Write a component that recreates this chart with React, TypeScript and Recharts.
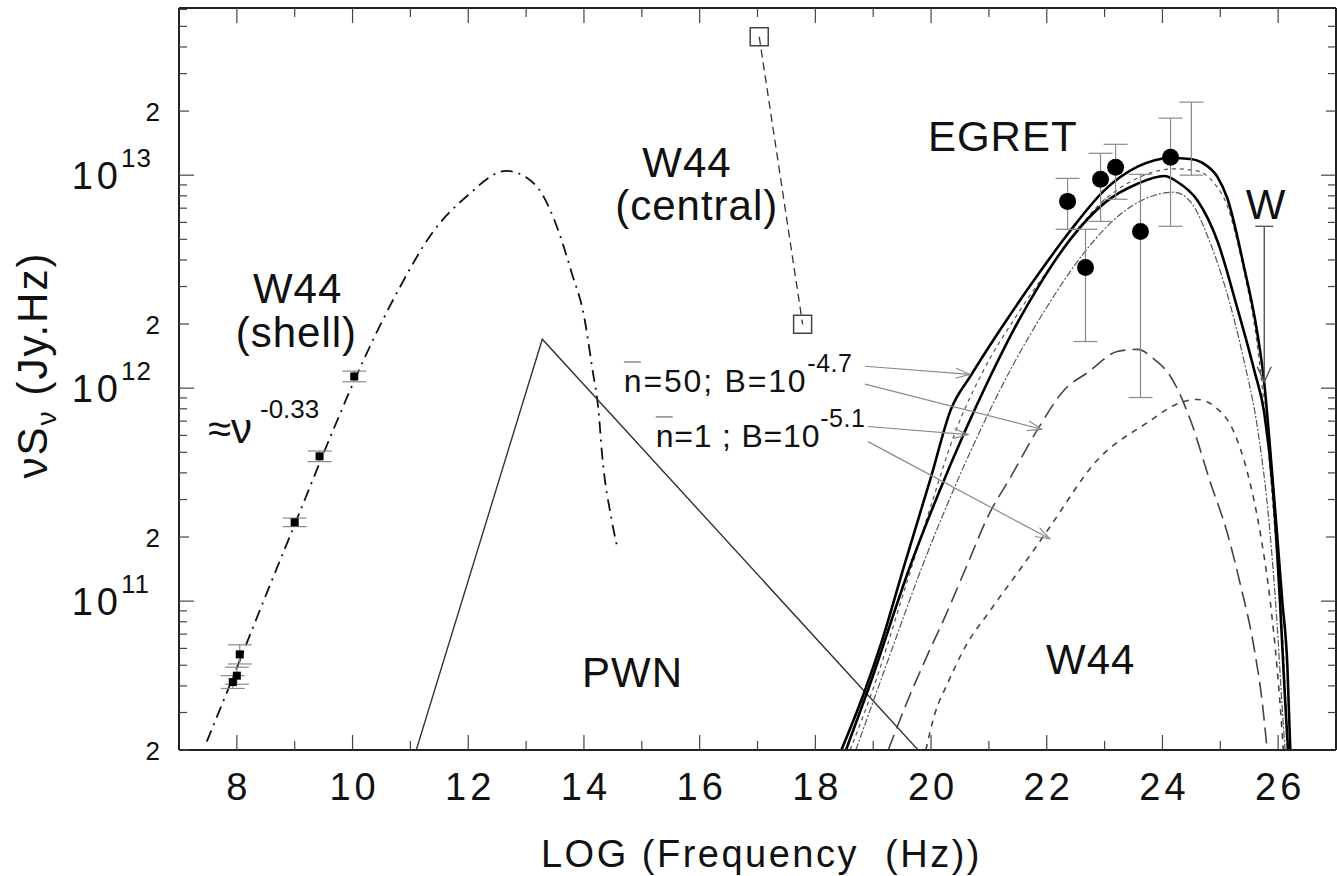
import React from 'react';
import {
  ComposedChart, Line, Scatter, XAxis, YAxis, ErrorBar,
  ReferenceLine, ReferenceDot, Label,
} from 'recharts';

// x = log10(nu / Hz), y = log10(nu S_nu / Jy Hz)

// W44 shell synchrotron fit (dash-dot)
const shellCurveX = [7.48, 7.93, 8.52, 9.09, 9.66, 10.17, 10.81, 11.38, 11.97, 12.66, 13.0, 13.28, 13.57, 13.79, 14.0, 14.14, 14.26, 14.31, 14.48, 14.57];
const shellCurveY = [10.34, 10.64, 11.04, 11.42, 11.80, 12.12, 12.47, 12.73, 12.90, 13.02, 12.99, 12.91, 12.73, 12.54, 12.34, 12.10, 11.87, 11.70, 11.38, 11.26];

// radio points of the shell
const shellPtX = [7.93, 8.0, 8.05, 9.0, 9.43, 10.03];
const shellPtY = [10.62, 10.65, 10.75, 11.37, 11.68, 12.055];
const shellPtErr = [0.03, 0.04, 0.045, 0.02, 0.025, 0.025];

// PWN broken power law
const pwnX = [11.10, 13.28, 19.78];
const pwnY = [10.30, 12.23, 10.30];

// W44 central source
const centralX = [17.03, 17.78];
const centralY = [13.65, 12.30];

// EGRET points
const egretX = [22.36, 22.67, 22.93, 23.19, 23.62, 24.14];
const egretY = [12.877, 12.567, 12.981, 13.037, 12.736, 13.084];
const egretErrLo = [0.131, 0.348, 0.198, 0.15, 0.78, 0.324];
const egretErrHi = [0.108, 0.179, 0.122, 0.108, 0.268, 0.184];
// bar with its point hidden under the model curves
const egretHiddenX = [24.5];
const egretHiddenY = [13.05];
const egretHiddenErrLo = [0.05];
const egretHiddenErrHi = [0.293];

// upper limit "W"
const upperLimitX = 25.76;
const upperLimitTop = 12.76;
const upperLimitTip = 12.03;

// model curves (solid pair, their thin companions, long dash, short dash)
const modelAX = [18.45, 18.86, 19.14, 19.55, 20.0, 20.34, 20.69, 21.16, 21.84, 22.41, 23.0, 23.57, 24.14, 24.48, 24.72, 24.95, 25.12, 25.41, 25.64, 25.76, 25.86, 25.98, 26.07, 26.16, 26.21];
const modelAY = [10.301, 10.583, 10.804, 11.18, 11.583, 11.898, 12.06, 12.26, 12.53, 12.74, 12.93, 13.04, 13.081, 13.076, 13.053, 12.992, 12.893, 12.569, 12.259, 12.024, 11.72, 11.32, 11.005, 10.691, 10.301];
const modelBX = [18.53, 18.91, 19.66, 20.12, 20.59, 20.98, 21.5, 21.84, 22.41, 23.0, 23.57, 24.03, 24.26, 24.6, 24.95, 25.29, 25.59, 25.76, 25.91, 26.03, 26.12, 26.17];
const modelBY = [10.301, 10.583, 11.18, 11.50, 11.80, 12.03, 12.31, 12.47, 12.70, 12.87, 12.96, 12.996, 12.968, 12.883, 12.691, 12.38, 12.08, 11.883, 11.522, 11.005, 10.536, 10.301];
const modelA2X = [18.6, 19.0, 19.55, 20.0, 20.4, 20.9, 21.5, 22.2, 22.9, 23.6, 24.2, 24.6, 24.9, 25.1, 25.4, 25.62, 25.78, 25.93, 26.05, 26.12, 26.16];
const modelA2Y = [10.301, 10.59, 11.06, 11.45, 11.78, 12.08, 12.35, 12.62, 12.86, 12.99, 13.03, 13.02, 12.96, 12.87, 12.56, 12.24, 11.86, 11.38, 10.95, 10.6, 10.301];
const modelB2X = [18.7, 19.2, 19.9, 20.4, 20.9, 21.4, 22.0, 22.6, 23.2, 23.8, 24.2, 24.5, 24.8, 25.1, 25.4, 25.65, 25.85, 25.98, 26.07, 26.12];
const modelB2Y = [10.301, 10.68, 11.2, 11.53, 11.83, 12.1, 12.38, 12.62, 12.8, 12.9, 12.92, 12.87, 12.7, 12.46, 12.14, 11.8, 11.35, 10.9, 10.5, 10.301];
const modelCX = [19.26, 19.6, 19.9, 20.24, 20.64, 20.98, 21.38, 21.84, 22.31, 22.71, 23.22, 23.57, 23.86, 24.14, 24.48, 24.83, 25.12, 25.34, 25.59, 25.72, 25.81];
const modelCY = [10.301, 10.536, 10.724, 10.926, 11.18, 11.396, 11.585, 11.805, 11.994, 12.074, 12.172, 12.182, 12.135, 12.055, 11.853, 11.556, 11.321, 11.086, 10.771, 10.536, 10.301];
const modelDX = [19.91, 20.07, 20.29, 20.59, 21.03, 21.62, 22.02, 22.88, 23.74, 24.31, 24.6, 24.9, 25.24, 25.47, 25.69, 25.86, 25.98, 26.07, 26.09];
const modelDY = [10.301, 10.475, 10.616, 10.785, 10.959, 11.18, 11.335, 11.664, 11.838, 11.932, 11.947, 11.914, 11.791, 11.603, 11.321, 11.006, 10.691, 10.381, 10.301];

// arrows from the n/B labels to the curves
const arrowFromX = [18.86, 18.86, 18.91, 18.91];
const arrowFromY = [12.103, 12.019, 11.82, 11.749];
const arrowToX = [20.67, 21.91, 20.64, 22.05];
const arrowToY = [12.065, 11.807, 11.782, 11.293];

// axes
const xTicks = [7, 8, 9, 10, 11, 12, 13, 14, 15, 16, 17, 18, 19, 20, 21, 22, 23, 24, 25, 26, 27];
const xLabelTicks = [8, 10, 12, 14, 16, 18, 20, 22, 24, 26];
const yDecades = [10, 11, 12, 13];
const yMultipliers = [1, 2, 3, 4, 5, 6, 7, 8, 9];

const X_DOMAIN: [number, number] = [7, 27];
const Y_DOMAIN: [number, number] = [Math.log10(2e10), 13.785];
const yTicks = yDecades
  .flatMap((d) => yMultipliers.map((m) => d + Math.log10(m)))
  .filter((v) => v >= Y_DOMAIN[0] - 1e-6 && v <= Y_DOMAIN[1]);
const innerXTicks = xTicks.filter((v) => v > X_DOMAIN[0] && v < X_DOMAIN[1]);
const innerYTicks = yTicks.filter((v) => v > Y_DOMAIN[0] + 1e-6 && v < Y_DOMAIN[1] - 0.01);

const pts = (xs: number[], ys: number[]) => xs.map((x, i) => ({ x, y: ys[i] }));
const errPts = (xs: number[], ys: number[], lo: number[], hi: number[]) =>
  xs.map((x, i) => ({ x, y: ys[i], err: [lo[i], hi[i]] }));

const FONT = '"Liberation Sans", Arial, Helvetica, sans-serif';
const INK = '#111';
const GREY = '#8a8a8a';
const FRAME = { stroke: '#222', strokeWidth: 2 };

const tickMult = (v: number) => {
  const d = Math.floor(v + 1e-6);
  return { d, m: Math.round(Math.pow(10, v - d)) };
};
const yTickLen = (v: number) => {
  const { m } = tickMult(v);
  return m === 1 ? 15 : m === 2 ? 10 : 8;
};
const xTickLen = (v: number) => (xLabelTicks.includes(v) ? 15 : 9);

const XTick = (props: any) => {
  const { x, y, payload } = props;
  const v = payload.value;
  if (v <= X_DOMAIN[0] || v >= X_DOMAIN[1]) return <g />;
  const major = xLabelTicks.includes(v);
  return (
    <g>
      <line x1={x} x2={x} y1={y} y2={y - xTickLen(v)} stroke="#444" strokeWidth={1.2} />
      {major && (
        <text x={x + 2} y={y + 50} textAnchor="middle" fontSize={38} letterSpacing={4} fontFamily={FONT} fill={INK}>
          {v}
        </text>
      )}
    </g>
  );
};

const YTick = (props: any) => {
  const { x, y, payload } = props;
  const { d, m } = tickMult(payload.value);
  return (
    <g>
      <line x1={x} x2={x + yTickLen(payload.value)} y1={y} y2={y} stroke="#444" strokeWidth={1.2} />
      {m === 1 && (
        <g fontFamily={FONT} fill={INK}>
          <text x={122} y={y + 14} textAnchor="end" fontSize={38} letterSpacing={4}>10</text>
          <text x={121} y={y - 8} fontSize={26} letterSpacing={1}>{d}</text>
        </g>
      )}
      {m === 2 && (
        <text x={160} y={y + 10} textAnchor="end" fontSize={26} fontFamily={FONT} fill={INK}>2</text>
      )}
    </g>
  );
};

// mirrored ticks on the top and right frame edges
const topTickShape = (len: number) => (p: any) => {
  const top = Math.min(p.y1, p.y2);
  return <line x1={p.x1} x2={p.x1} y1={top} y2={top + len} stroke="#444" strokeWidth={1.2} />;
};
const rightTickShape = (len: number) => (p: any) => {
  const right = Math.max(p.x1, p.x2);
  return <line x1={right - len} x2={right} y1={p.y1} y2={p.y1} stroke="#444" strokeWidth={1.2} />;
};

const xTitle = (props: any) => {
  const vb = props.viewBox;
  return (
    <text x={vb.x + vb.width / 2 + 4} y={vb.y + 117} textAnchor="middle" fontSize={38} letterSpacing={2.5}
      fontFamily={FONT} fill={INK} xmlSpace="preserve">
      LOG (Frequency  (Hz))
    </text>
  );
};

const yTitle = (props: any) => {
  const vb = props.viewBox;
  const cx = 47;
  const cy = vb.y + vb.height / 2 - 14;
  return (
    <text x={cx} y={cy} transform={`rotate(-90 ${cx} ${cy})`} textAnchor="middle" fontSize={42} letterSpacing={2}
      fontFamily={FONT} fill={INK}>
      νS<tspan fontSize={28} dy={9}>ν</tspan>
      <tspan fontSize={42} dy={-9} dx={14}>(Jy.Hz)</tspan>
    </text>
  );
};

const arrowShape = (p: any) => {
  const { x1, y1, x2, y2 } = p;
  const a = Math.atan2(y2 - y1, x2 - x1);
  const len = 15;
  const s = 0.34;
  const hx1 = x2 - len * Math.cos(a - s);
  const hy1 = y2 - len * Math.sin(a - s);
  const hx2 = x2 - len * Math.cos(a + s);
  const hy2 = y2 - len * Math.sin(a + s);
  return (
    <g>
      <line x1={x1} y1={y1} x2={x2} y2={y2} stroke={GREY} strokeWidth={1.2} />
      <polyline points={`${hx1},${hy1} ${x2},${y2} ${hx2},${hy2}`} fill="none" stroke={GREY} strokeWidth={1.2} />
    </g>
  );
};

const upperLimitShape = (p: any) => {
  const { x1, y1, x2, y2 } = p;
  return (
    <g stroke="#555" strokeWidth={1.4} fill="none">
      <line x1={x1} y1={y1} x2={x2} y2={y2} />
      <line x1={x1 - 9} y1={y1} x2={x1 + 9} y2={y1} />
      <polyline points={`${x2 - 7},${y2 - 15} ${x2},${y2} ${x2 + 7},${y2 - 15}`} />
    </g>
  );
};

const txt = (content: string, size = 42, anchor = 'middle') => (p: any) => (
  <text x={p.cx} y={p.cy} textAnchor={anchor} fontSize={size} fontFamily={FONT} fill={INK} letterSpacing={1}>
    {content}
  </text>
);

const nuLabel = (p: any) => (
  <text x={p.cx} y={p.cy} fontSize={42} fontFamily={FONT} fill={INK}>
    ≈ν<tspan fontSize={26} dy={-25} dx={8}>-0.33</tspan>
  </text>
);

const modelLabel = (head: string, sup: string, spacing: number) => (p: any) => (
  <g>
    <line x1={p.cx} x2={p.cx + 17} y1={p.cy - 30} y2={p.cy - 30} stroke="#777" strokeWidth={1.3} />
    <text x={p.cx} y={p.cy} fontSize={32} fontFamily={FONT} fill={INK} letterSpacing={spacing} xmlSpace="preserve">
      {head}<tspan fontSize={25} dy={-20} letterSpacing={0.5}>{sup}</tspan>
    </text>
  </g>
);

const centralSquare = (p: any) => (
  <rect x={p.cx - 9} y={p.cy - 9} width={18} height={18} fill="none" stroke="#444" strokeWidth={1.5} />
);
const shellSquare = (p: any) => <rect x={p.cx - 4} y={p.cy - 4} width={8} height={8} fill="#000" />;
const egretDot = (p: any) => <circle cx={p.cx} cy={p.cy} r={8.5} fill="#000" />;
const noDot = () => <g />;

export default function App() {
  const textDots: { x: number; y: number; shape: (p: any) => React.ReactElement }[] = [
    { x: 9.05, y: 12.40, shape: txt('W44') },
    { x: 9.03, y: 12.193, shape: txt('(shell)') },
    { x: 7.50, y: 11.742, shape: nuLabel },
    { x: 15.78, y: 12.991, shape: txt('W44') },
    { x: 15.95, y: 12.789, shape: txt('(central)') },
    { x: 21.24, y: 13.113, shape: txt('EGRET') },
    { x: 25.79, y: 12.794, shape: txt('W') },
    { x: 14.84, y: 10.597, shape: txt('PWN') },
    { x: 22.76, y: 10.658, shape: txt('W44') },
    { x: 14.69, y: 11.982, shape: modelLabel('n=50; B=10', '-4.7', 1.8) },
    { x: 15.24, y: 11.724, shape: modelLabel('n=1 ; B=10', '-5.1', 0.8) },
  ];

  return (
    <div style={{ position: 'absolute', left: 0, top: 0, width: 1337, height: 876, overflow: 'hidden', background: '#fff' }}>
      <ComposedChart width={1345} height={876} margin={{ top: 8, right: 9, bottom: 0, left: 0 }}>
        <XAxis type="number" dataKey="x" domain={X_DOMAIN} ticks={xTicks} interval={0} allowDataOverflow
          height={126} tickSize={0} tickMargin={0} tickLine={false} tick={XTick} axisLine={FRAME}>
          <Label content={xTitle} />
        </XAxis>
        <YAxis type="number" dataKey="y" domain={Y_DOMAIN} ticks={yTicks} interval={0} allowDataOverflow
          width={179} tickSize={0} tickMargin={0} tickLine={false} tick={YTick} axisLine={FRAME}>
          <Label content={yTitle} />
        </YAxis>

        {/* top and right edges of the frame, with mirrored ticks */}
        <ReferenceLine y={Y_DOMAIN[1]} stroke="#222" strokeWidth={2} />
        <ReferenceLine x={X_DOMAIN[1]} stroke="#222" strokeWidth={2} />
        {innerXTicks.map((v) => (
          <ReferenceLine key={`tt-${v}`} x={v} shape={topTickShape(xTickLen(v))} />
        ))}
        {innerYTicks.map((v) => (
          <ReferenceLine key={`rt-${v}`} y={v} shape={rightTickShape(yTickLen(v))} />
        ))}

        <Line data={pts(shellCurveX, shellCurveY)} dataKey="y" type="monotone" stroke="#111" strokeWidth={1.8}
          strokeDasharray="12 6 2 6" dot={false} activeDot={false} isAnimationActive={false} />
        <Line data={pts(pwnX, pwnY)} dataKey="y" type="linear" stroke="#333" strokeWidth={1.4}
          dot={false} activeDot={false} isAnimationActive={false} />
        <Line data={pts(centralX, centralY)} dataKey="y" type="linear" stroke="#333" strokeWidth={1.3}
          strokeDasharray="8 5" dot={false} activeDot={false} isAnimationActive={false} />

        <Line data={pts(modelCX, modelCY)} dataKey="y" type="monotone" stroke="#444" strokeWidth={1.6}
          strokeDasharray="16 7" dot={false} activeDot={false} isAnimationActive={false} />
        <Line data={pts(modelDX, modelDY)} dataKey="y" type="monotone" stroke="#444" strokeWidth={1.6}
          strokeDasharray="6 6" dot={false} activeDot={false} isAnimationActive={false} />
        <Line data={pts(modelA2X, modelA2Y)} dataKey="y" type="monotone" stroke="#555" strokeWidth={1.2}
          strokeDasharray="4 4" dot={false} activeDot={false} isAnimationActive={false} />
        <Line data={pts(modelB2X, modelB2Y)} dataKey="y" type="monotone" stroke="#555" strokeWidth={1.2}
          strokeDasharray="7 2 2 2" dot={false} activeDot={false} isAnimationActive={false} />
        <Line data={pts(modelAX, modelAY)} dataKey="y" type="monotone" stroke="#000" strokeWidth={2.6}
          dot={false} activeDot={false} isAnimationActive={false} />
        <Line data={pts(modelBX, modelBY)} dataKey="y" type="monotone" stroke="#000" strokeWidth={2.6}
          dot={false} activeDot={false} isAnimationActive={false} />

        <Scatter data={errPts(shellPtX, shellPtY, shellPtErr, shellPtErr)} dataKey="y" shape={shellSquare}
          isAnimationActive={false}>
          <ErrorBar dataKey="err" direction="y" width={12} stroke={GREY} strokeWidth={1.2} />
        </Scatter>
        <Scatter data={pts(centralX, centralY)} dataKey="y" shape={centralSquare} isAnimationActive={false} />
        <Scatter data={errPts(egretX, egretY, egretErrLo, egretErrHi)} dataKey="y" shape={egretDot}
          isAnimationActive={false}>
          <ErrorBar dataKey="err" direction="y" width={12} stroke={GREY} strokeWidth={1.2} />
        </Scatter>
        <Scatter data={errPts(egretHiddenX, egretHiddenY, egretHiddenErrLo, egretHiddenErrHi)} dataKey="y"
          shape={noDot} isAnimationActive={false}>
          <ErrorBar dataKey="err" direction="y" width={12} stroke={GREY} strokeWidth={1.2} />
        </Scatter>

        <ReferenceLine
          segment={[{ x: upperLimitX, y: upperLimitTop }, { x: upperLimitX, y: upperLimitTip }]}
          shape={upperLimitShape}
        />
        {arrowFromX.map((x, i) => (
          <ReferenceLine key={`arrow-${i}`}
            segment={[{ x, y: arrowFromY[i] }, { x: arrowToX[i], y: arrowToY[i] }]}
            shape={arrowShape}
          />
        ))}
        {textDots.map((t, i) => (
          <ReferenceDot key={`txt-${i}`} x={t.x} y={t.y} r={0} ifOverflow="visible" shape={t.shape} />
        ))}
      </ComposedChart>
    </div>
  );
}
